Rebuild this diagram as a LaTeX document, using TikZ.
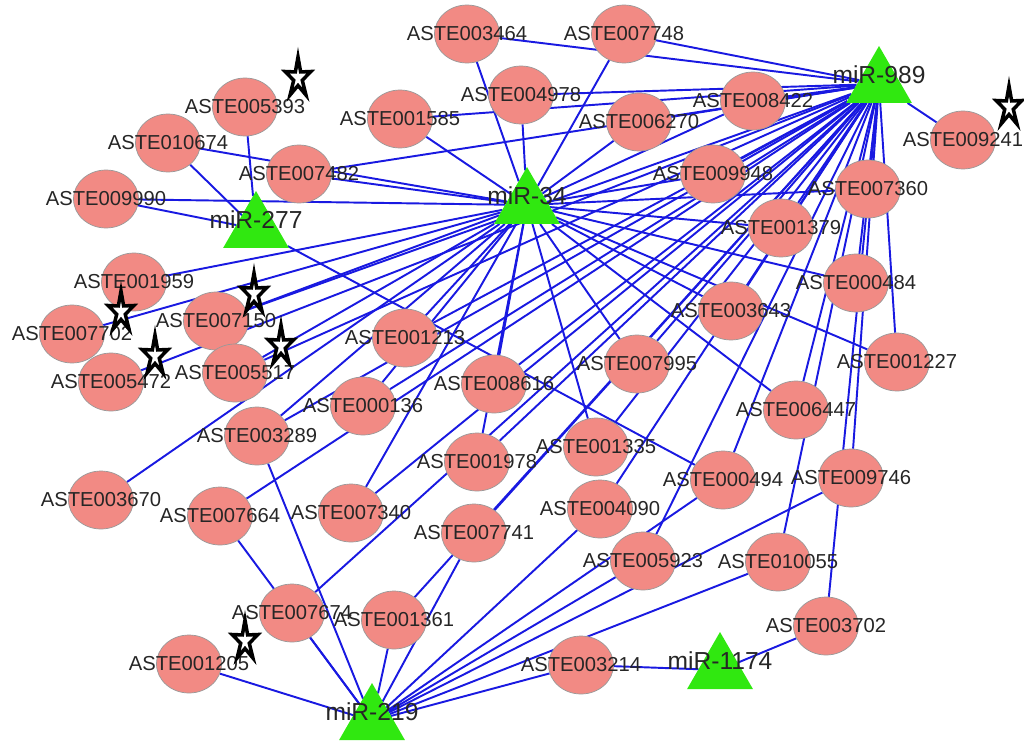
\documentclass[tikz,border=0pt]{standalone}
\usepackage{fontspec}
\setmainfont{Liberation Sans}
\usepackage{tikz}
\usetikzlibrary{%
backgrounds,
calc,
shapes.geometric
}

\definecolor{genefill}{RGB}{242,138,132}
\definecolor{mirgreen}{RGB}{48,232,16}
\definecolor{edgeblue}{RGB}{25,25,225}

\tikzset{
    gene/.style={ellipse, draw=black!40, line width=0.4pt, fill=genefill,
        minimum width=1.3cm, minimum height=1.16cm, inner sep=0pt},
    genelab/.style={font=\fontsize{11.5}{13}\selectfont, text=black!85, inner sep=0pt},
    mirna/.style={regular polygon, regular polygon sides=3, fill=mirgreen,
        minimum size=1.52cm, inner sep=0pt, outer sep=0pt},
    mirlab/.style={font=\fontsize{14}{16}\selectfont, text=black!85, inner sep=0pt, yshift=0.18cm},
    link/.style={draw=edgeblue, line width=1.1pt},
    starline/.style={draw=black, line width=2pt, fill=white, line join=miter}
}

% id/x/y of the target genes
\newcommand{\genelist}{003464/467/34, 007748/624/34, 005393/245/107, 004978/521/95,
    001585/400/119, 010674/168/143, 008422/753/101, 006270/639/122, 009241/963/140,
    007482/299/174, 009990/106/199, 009948/713/174, 007360/868/189, 001379/781/228,
    000484/856/283, 001959/134/282, 003643/731/311, 007702/72/334, 007150/216/321,
    005472/111/382, 005517/235/373, 001213/405/338, 001227/897/362, 007995/637/364,
    008616/494/384, 000136/363/406, 006447/796/410, 003289/257/436, 001335/596/447,
    001978/477/462, 000494/723/480, 009746/851/478, 003670/101/500, 007664/220/516,
    007340/351/513, 004090/600/509, 007741/474/533, 005923/643/561, 010055/778/562,
    007674/292/613, 001361/394/620, 003702/826/626, 001205/189/664, 003214/581/665}

\begin{document}
\begin{tikzpicture}[x=0.02cm, y=-0.02cm]
\useasboundingbox (0,0) rectangle (1024,747);
    % miRNAs
    \node[mirna, label={[mirlab]center:miR-989}] (m989) at (879,84) {};
    \node[mirna, label={[mirlab]center:miR-34}] (m34) at (527,205) {};
    \node[mirna, label={[mirlab]center:miR-277}] (m277) at (256,229) {};
    \node[mirna, label={[mirlab]center:miR-1174}] (m1174) at (720,670) {};
    \node[mirna, label={[mirlab]center:miR-219}] (m219) at (372,721) {};
    % genes
    \foreach \id/\x/\y in \genelist {
        \node[gene] (g\id) at (\x,\y) {};
    }
    \foreach \id/\x/\y in \genelist {
        \node[genelab] (t\id) at (g\id) {ASTE\id};
    }
    % interactions
    \begin{scope}[on background layer]
        \foreach \g in {005393,010674,009990,000494} {
            \draw[link] (m277) -- (g\g);
        }
        \foreach \g in {003464,007748,004978,001585,010674,007482,009990,006270,
                008422,009948,007360,001379,000484,003643,001227,006447,007995,
                001335,008616,001213,001978,000136,001959,007702,007150,005517,
                003289,003670,007340} {
            \draw[link] (m34) -- (g\g);
        }
        \foreach \g in {003464,007748,004978,001585,006270,008422,007482,009948,
                007360,001379,000484,001227,009241,003643,007995,006447,000494,
                005923,010055,009746,003702,001978,001335,004090,007741,001361,
                008616,001213,000136,003289,005517,007150,005472,007664,007340,
                007674} {
            \draw[link] (m989) -- (g\g);
        }
        \foreach \g in {001205,007674,007664,003289,001361,007741,004090,005923,
                009746,010055,003214,000494} {
            \draw[link] (m219) -- (g\g);
        }
        \foreach \g in {003214,003702} {
            \draw[link] (m1174) -- (g\g);
        }
    \end{scope}
    % marks
    \foreach \sx/\sy in {298/78, 1009/107, 121/312, 254/294, 155/356, 281/346, 245/641} {
        \draw[starline] plot[samples at={0,...,9}]
            ({\sx + (mod(\x,2)==0 ? 13.5 : 4.5)*cos(90+36*\x)},
             {\sy - (mod(\x,2)==0 ? 21 : 7.5)*sin(90+36*\x)}) -- cycle;
    }
\end{tikzpicture}
\end{document}
